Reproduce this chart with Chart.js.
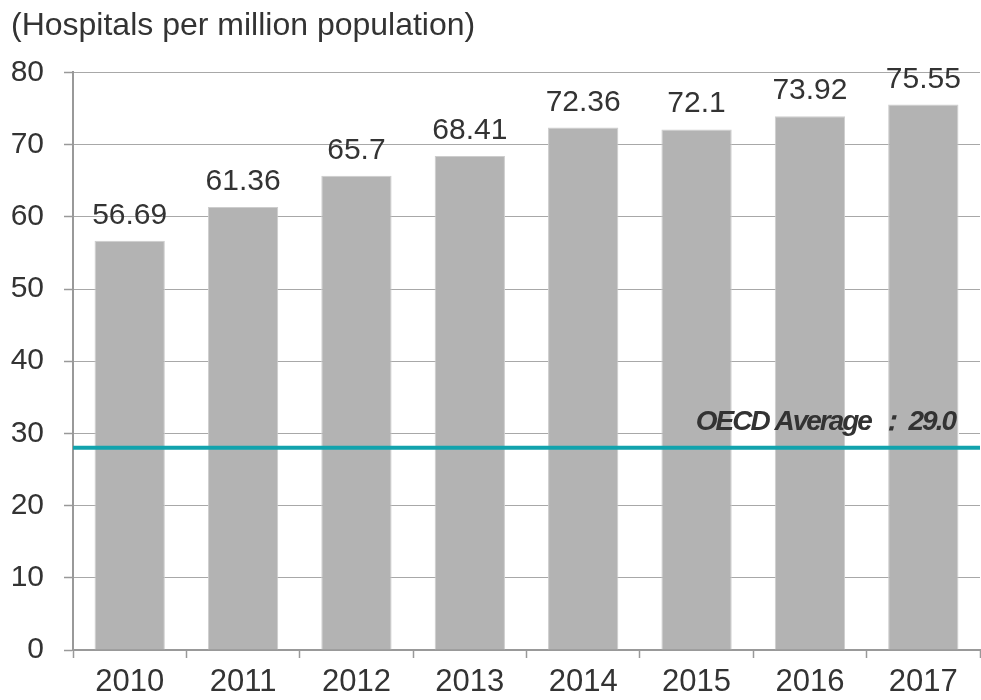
<!DOCTYPE html>
<html>
<head>
<meta charset="utf-8">
<script src="https://cdn.jsdelivr.net/npm/chart.js@4/dist/chart.umd.min.js"></script>
<style>
	html, body { margin: 0; padding: 0; background: #fff; }
	#wrap { width: 981px; height: 700px; }
</style>
</head>
<body>
<div id="wrap"><canvas id="chart-hospitals"></canvas></div>
<script>
var years = ["2010", "2011", "2012", "2013", "2014", "2015", "2016", "2017"];
var hospitals = [56.69, 61.36, 65.7, 68.41, 72.36, 72.1, 73.92, 75.55];
var value_labels = ["56.69", "61.36", "65.7", "68.41", "72.36", "72.1", "73.92", "75.55"];
var oecd_level = [28];
var oecd_text = ["OECD Average \uFF1A 29.0"];

var FONT = "'Liberation Sans', Arial, sans-serif";
var OECD_FONT = "italic bold 28px " + FONT;

function oecd_spacing(ctx) {
	if ('letterSpacing' in ctx) ctx.letterSpacing = '-2px';
}

// value labels above bars + OECD reference line
var overlay = {
	id: 'overlay',
	beforeDatasetsDraw: function (chart) {
		var ctx = chart.ctx;
		var y = chart.scales.y;
		var area = chart.chartArea;
		// white patch behind the OECD label, hides the grid line there
		ctx.save();
		ctx.font = OECD_FONT;
		oecd_spacing(ctx);
		var w = ctx.measureText(oecd_text[0]).width;
		var py = y.getPixelForValue(oecd_level[0]);
		ctx.fillStyle = '#fff';
		ctx.fillRect(area.right - 25 - w - 4, py - 46, w + 8, 34);
		ctx.restore();
	},
	afterDatasetsDraw: function (chart) {
		var ctx = chart.ctx;
		var meta = chart.getDatasetMeta(0);
		var y = chart.scales.y;
		var area = chart.chartArea;
		ctx.save();
		ctx.font = "30px " + FONT;
		ctx.fillStyle = '#333';
		ctx.textAlign = 'center';
		ctx.textBaseline = 'alphabetic';
		meta.data.forEach(function (bar, i) {
			ctx.fillText(value_labels[i], bar.x, bar.y - 17);
		});

		var py = y.getPixelForValue(oecd_level[0]);
		ctx.strokeStyle = '#12a3ad';
		ctx.lineWidth = 4;
		ctx.beginPath();
		ctx.moveTo(area.left, py);
		ctx.lineTo(area.right, py);
		ctx.stroke();

		ctx.font = OECD_FONT;
		oecd_spacing(ctx);
		ctx.textAlign = 'right';
		ctx.fillStyle = '#333';
		ctx.fillText(oecd_text[0], area.right - 25, py - 18);
		ctx.restore();
	}
};

var ctx_h = document.getElementById('chart-hospitals').getContext('2d');
new Chart(ctx_h, {
	type: 'bar',
	data: {
		labels: years,
		datasets: [{
			data: hospitals,
			backgroundColor: '#b3b3b3',
			borderColor: '#cdcdcd',
			borderWidth: 1,
			categoryPercentage: 1.0,
			barPercentage: 0.62
		}]
	},
	plugins: [overlay],
	options: {
		responsive: true,
		maintainAspectRatio: false,
		animation: false,
		layout: {
			padding: { left: 11, right: 1, top: 0, bottom: 1 }
		},
		plugins: {
			legend: { display: false },
			tooltip: { enabled: false },
			title: {
				display: true,
				text: '(Hospitals per million population)',
				align: 'start',
				color: '#333',
				font: { family: FONT, size: 32, weight: 'normal' },
				padding: { top: 7, bottom: 27 }
			}
		},
		scales: {
			x: {
				afterFit: function (scale) { scale.height = 49; },
				grid: {
					offset: true,
					drawOnChartArea: false,
					drawTicks: true,
					tickLength: 8,
					tickColor: '#999',
					tickWidth: 1.5
				},
				border: { color: '#999', width: 2 },
				ticks: {
					color: '#333',
					padding: 6,
					font: { family: FONT, size: 31 }
				}
			},
			y: {
				min: 0,
				max: 80,
				afterFit: function (scale) { scale.width = 62; },
				ticks: {
					stepSize: 10,
					color: '#333',
					padding: 20,
					font: { family: FONT, size: 30 }
				},
				grid: {
					color: '#a8a8a8',
					lineWidth: 1,
					borderDash: [1, 1],
					drawTicks: true,
					tickLength: 9,
					tickColor: '#999',
					tickWidth: 1.5,
					tickBorderDash: []
				},
				border: { color: '#999', width: 2 }
			}
		}
	}
});
</script>
</body>
</html>
